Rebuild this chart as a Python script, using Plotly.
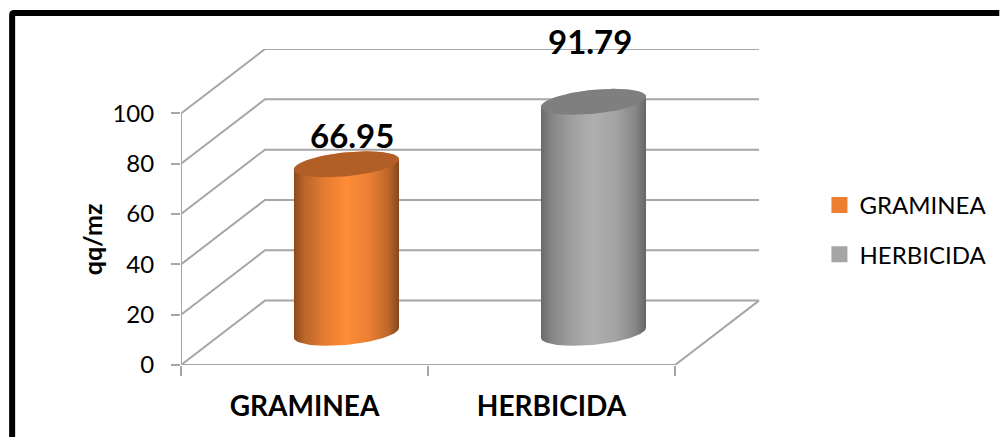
import numpy as np
import plotly.graph_objects as go

categories = ["GRAMINEA", "HERBICIDA"]
values = [66.95, 91.79]
y_ticks = [0, 20, 40, 60, 80, 100]
y_title = "qq/mz"

GRID = "#A6A6A6"
FONT = "Lato"
W, H = 1000, 437
ML, MR, MT, MB = 181, 239.5, 49, 72
XMAX = 2.344
YMAX = 125.6
DX, DY = 0.34, 25.6      # depth offset of the back wall, in axis units
RX, RY, TILT = 0.2126, 4.77, 1.99  # cylinder cap ellipse, in axis units


def px(x):
    return (x - ML) / (W - ML - MR)


def py(y):
    return 1 - (y - MT) / (H - MT - MB)


def proj(c, v, d):
    return c + DX * d, v + DY * d


def cap(c, v, t):
    x0, y0 = proj(c, v, 0.5)
    return x0 + RX * np.cos(t), y0 + TILT * np.cos(t) + RY * np.sin(t)


fig = go.Figure()

# walls and floor
for v in y_ticks:
    x0, y0 = proj(0, v, 0)
    x1, y1 = proj(0, v, 1)
    x2, y2 = proj(len(categories), v, 1)
    fig.add_trace(go.Scatter(x=[x0, x1, x2], y=[y0, y1, y2], mode="lines",
                             line=dict(color=GRID, width=2), showlegend=False,
                             hoverinfo="skip", cliponaxis=False))
n = len(categories)
fx = [proj(0, 100, 0)[0], proj(0, 0, 0)[0], proj(n, 0, 0)[0], proj(n, 0, 1)[0]]
fy = [proj(0, 100, 0)[1], proj(0, 0, 0)[1], proj(n, 0, 0)[1], proj(n, 0, 1)[1]]
fig.add_trace(go.Scatter(x=fx, y=fy, mode="lines", line=dict(color=GRID, width=2),
                         showlegend=False, hoverinfo="skip", cliponaxis=False))

# cylinders
styles = [
    dict(top="#B25F27", swatch="#ED7D31",
         scale=[[0, "#8A4A1C"], [0.1, "#BB662A"], [0.3, "#E67C32"], [0.5, "#FF8C37"],
                [0.72, "#EA7E33"], [0.9, "#BC672A"], [1, "#85471B"]]),
    dict(top="#7F7F7F", swatch="#A5A5A5",
         scale=[[0, "#6A6A6A"], [0.1, "#858585"], [0.3, "#A0A0A0"], [0.5, "#AFAFAF"],
                [0.72, "#A2A2A2"], [0.9, "#868686"], [1, "#666666"]]),
]
t_low = np.linspace(0, -np.pi, 60)
t_top = np.linspace(-np.pi, np.pi, 120)
for i, (cat, val, st) in enumerate(zip(categories, values, styles)):
    c = i + 0.5
    bx, by = cap(c, 0, t_low)
    tx, ty = cap(c, val, np.linspace(np.pi, 0, 60))
    fig.add_trace(go.Scatter(
        x=np.r_[bx, tx, bx[0]], y=np.r_[by, ty, by[0]], mode="lines", fill="toself",
        line=dict(width=0), showlegend=False, name=cat,
        fillgradient=dict(type="horizontal", colorscale=st["scale"]),
        hovertemplate=f"{cat}: {val}<extra></extra>"))
    ex, ey = cap(c, val, t_top)
    fig.add_trace(go.Scatter(x=ex, y=ey, mode="lines", fill="toself", fillcolor=st["top"],
                             line=dict(width=0), showlegend=False, hoverinfo="skip"))
    # legend entry
    fig.add_trace(go.Scatter(x=[None], y=[None], mode="markers", name=cat, legendgroup=cat,
                             marker=dict(symbol="square", size=16, color=st["swatch"])))

# data labels
label_nudge = [(5, -29), (-4, -61)]
annotations = []
for i, (val, (nx, ny)) in enumerate(zip(values, label_nudge)):
    x0, y0 = proj(i + 0.5, val, 0.5)
    annotations.append(dict(x=x0, y=y0, xref="x", yref="y", text=f"<b>{val:.2f}</b>", showarrow=False,
                            xshift=nx, yshift=-ny, font=dict(family=FONT, size=33, color="#000"),
                            xanchor="center", yanchor="middle"))
annotations.append(dict(x=px(92), y=50, xref="paper", yref="y", text=f"<b>{y_title}</b>",
                        textangle=-90, showarrow=False, xanchor="center", yanchor="middle",
                        font=dict(family=FONT, size=25, color="#000")))

fig.update_layout(
    width=W, height=H, margin=dict(l=ML, r=MR, t=MT, b=MB, pad=0, autoexpand=False),
    paper_bgcolor="white", plot_bgcolor="white",
    font=dict(family=FONT, color="#000"),
    annotations=annotations,
    xaxis=dict(range=[0, XMAX], showgrid=False, zeroline=False, showline=False,
               tickmode="array", tickvals=[i + 0.5 for i in range(n)],
               ticktext=[f"<b>{c}</b>" for c in categories], ticks="",
               ticklabelstandoff=22, tickfont=dict(family=FONT, size=28, color="#000"),
               minor=dict(tickmode="array", tickvals=list(range(n + 1)), ticks="outside",
                          ticklen=10, tickcolor=GRID, tickwidth=1.5, showgrid=False)),
    yaxis=dict(range=[0, YMAX], showgrid=False, zeroline=False, showline=False,
               tickmode="array", tickvals=y_ticks, ticks="outside", ticklen=9,
               tickcolor=GRID, tickwidth=1.5, ticklabelstandoff=12,
               tickfont=dict(family=FONT, size=24, color="#000")),
    legend=dict(x=px(820), y=py(183), xref="paper", yref="paper", xanchor="left", yanchor="top",
                traceorder="grouped", tracegroupgap=15, bgcolor="rgba(0,0,0,0)",
                font=dict(family=FONT, size=24, color="#000"), itemsizing="trace"),
    shapes=[dict(type="path", xref="paper", yref="paper", layer="above",
                 path=(f"M {px(12)} {py(437)} L {px(12)} {py(15)} "
                       f"Q {px(12)} {py(13)} {px(14)} {py(13)} L {px(1000)} {py(13)}"),
                 line=dict(color="#000", width=6))],
)

fig.write_html("out.html", config={"displayModeBar": False},
               post_script="document.body.style.margin='0';")
